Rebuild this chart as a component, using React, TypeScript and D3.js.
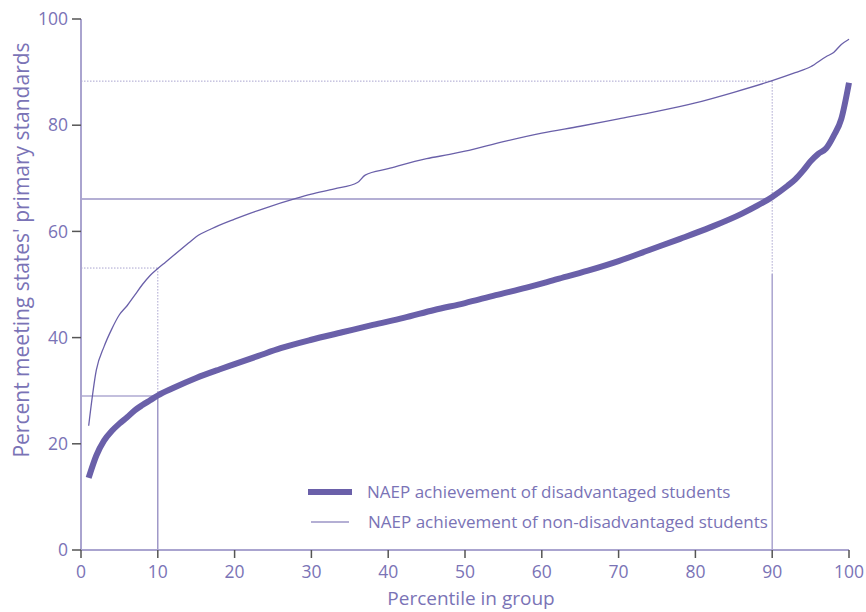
import React from "react";
import * as d3 from "d3";

const disX = [1, 2, 3, 4, 5, 6, 7, 8, 9, 10, 12, 15, 18, 20, 23, 26, 30, 34, 38, 42, 46, 50, 54, 58, 62, 66, 70, 74, 78, 82, 86, 88, 90, 92, 93, 94, 95, 96, 97, 98, 99, 100];
const disY = [13.6, 17.8, 20.6, 22.4, 23.8, 25, 26.3, 27.3, 28.2, 29.1, 30.5, 32.4, 34, 35, 36.5, 38, 39.6, 41, 42.4, 43.7, 45.2, 46.5, 48, 49.4, 51, 52.6, 54.4, 56.5, 58.6, 60.8, 63.3, 64.8, 66.5, 68.6, 69.8, 71.4, 73.2, 74.6, 75.6, 78, 81.2, 88];

const nonX = [1, 2, 3, 4, 5, 6, 7, 8, 9, 10, 11, 12, 14, 15, 17, 20, 22, 24, 28, 30, 33, 36, 37, 40, 45, 48, 50, 55, 60, 65, 70, 75, 80, 85, 90, 93, 95, 97, 98, 99, 100];
const nonY = [23.4, 33.9, 38.3, 41.6, 44.3, 46, 48, 50, 51.7, 53, 54.2, 55.4, 57.8, 59, 60.5, 62.3, 63.4, 64.4, 66.2, 67, 68, 69.2, 70.6, 71.8, 73.7, 74.5, 75.1, 76.9, 78.5, 79.8, 81.2, 82.6, 84.2, 86.2, 88.4, 89.9, 91, 92.9, 93.7, 95.2, 96.2];

const xTicks = [0, 10, 20, 30, 40, 50, 60, 70, 80, 90, 100];
const yTicks = [0, 20, 40, 60, 80, 100];

const legendLabels = [
  "NAEP achievement of disadvantaged students",
  "NAEP achievement of non-disadvantaged students",
];

// reference markers: [percentile, value at disadvantaged, value at non-disadvantaged]
const refP10 = [10, 29.0, 53.1];
const refP90 = [90, 66.1, 88.3];

const LINE = "#6a60a9";
const AXIS = "#aaa4cf";
const TEXT = "#7a73b6";
const TICK = "#555555";
const FONT = "'Open Sans', 'Noto Sans', sans-serif";

export default function App() {
  const W = 866, H = 612;
  const x = d3.scaleLinear().domain([0, 100]).range([81, 849]);
  const y = d3.scaleLinear().domain([0, 100]).range([550, 19]);

  const dis = disX.map((v, i) => [v, disY[i]] as [number, number]);
  const non = nonX.map((v, i) => [v, nonY[i]] as [number, number]);
  const line = d3
    .line<[number, number]>()
    .x((d) => x(d[0]))
    .y((d) => y(d[1]))
    .curve(d3.curveMonotoneX);

  const [p10, d10, n10] = refP10;
  const [p90, d90, n90] = refP90;

  return (
    <svg
      width={W}
      height={H}
      style={{ position: "absolute", left: 0, top: 0, background: "#fff" }}
      fontFamily={FONT}
    >
      {/* reference lines */}
      <g fill="none">
        <line x1={x(0)} x2={x(p90)} y1={y(d90)} y2={y(d90)} stroke={LINE} strokeWidth={1.2} />
        <line x1={x(0)} x2={x(p10)} y1={y(d10)} y2={y(d10)} stroke={LINE} strokeWidth={1.2} opacity={0.8} />
        <line x1={x(p10)} x2={x(p10)} y1={y(0)} y2={y(d10)} stroke={LINE} strokeWidth={1.2} opacity={0.8} />
        <line x1={x(p90)} x2={x(p90)} y1={y(0)} y2={y(52)} stroke={AXIS} strokeWidth={1.5} />
        <line x1={x(0)} x2={x(p90)} y1={y(n90)} y2={y(n90)} stroke={AXIS} strokeWidth={1} strokeDasharray="1.5,1.5" />
        <line x1={x(p90)} x2={x(p90)} y1={y(n90)} y2={y(52)} stroke={AXIS} strokeWidth={1} strokeDasharray="1.5,1.5" />
        <line x1={x(0)} x2={x(p10)} y1={y(n10)} y2={y(n10)} stroke={AXIS} strokeWidth={1} strokeDasharray="1.5,1.5" />
        <line x1={x(p10)} x2={x(p10)} y1={y(n10)} y2={y(d10)} stroke={AXIS} strokeWidth={1} strokeDasharray="1.5,1.5" />
      </g>

      {/* axes */}
      <line x1={x(0)} x2={x(0)} y1={y(0)} y2={y(100)} stroke={AXIS} strokeWidth={2} />
      <line x1={x(0)} x2={x(100)} y1={y(0)} y2={y(0)} stroke={AXIS} strokeWidth={2} />
      {yTicks.map((t) => (
        <g key={"y" + t}>
          <line x1={x(0) - 9} x2={x(0)} y1={y(t)} y2={y(t)} stroke={TICK} strokeWidth={1.5} />
          <text x={x(0) - 13} y={y(t)} dy="0.35em" textAnchor="end" fontSize={17.5} fill={TEXT}>
            {t}
          </text>
        </g>
      ))}
      {xTicks.map((t) => (
        <g key={"x" + t}>
          <line x1={x(t)} x2={x(t)} y1={y(0)} y2={y(0) + 8} stroke={TICK} strokeWidth={1.5} />
          <text x={x(t)} y={578} textAnchor="middle" fontSize={17.5} fill={TEXT}>
            {t}
          </text>
        </g>
      ))}
      <text x={471} y={605} textAnchor="middle" fontSize={19} fill={TEXT}>
        Percentile in group
      </text>
      <text
        transform={`translate(29,250) rotate(-90)`}
        textAnchor="middle"
        fontSize={21}
        fill={TEXT}
      >
        Percent meeting states' primary standards
      </text>

      {/* series */}
      <path d={line(non) || ""} fill="none" stroke={LINE} strokeWidth={1.3} />
      <path d={line(dis) || ""} fill="none" stroke={LINE} strokeWidth={6} />

      {/* legend */}
      <line x1={308} x2={352} y1={492} y2={492} stroke={LINE} strokeWidth={6} />
      <text x={367} y={498} fontSize={17} fill={TEXT}>{legendLabels[0]}</text>
      <line x1={311} x2={349} y1={522} y2={522} stroke={LINE} strokeWidth={1.2} />
      <text x={368} y={528} fontSize={17} fill={TEXT}>{legendLabels[1]}</text>
    </svg>
  );
}
